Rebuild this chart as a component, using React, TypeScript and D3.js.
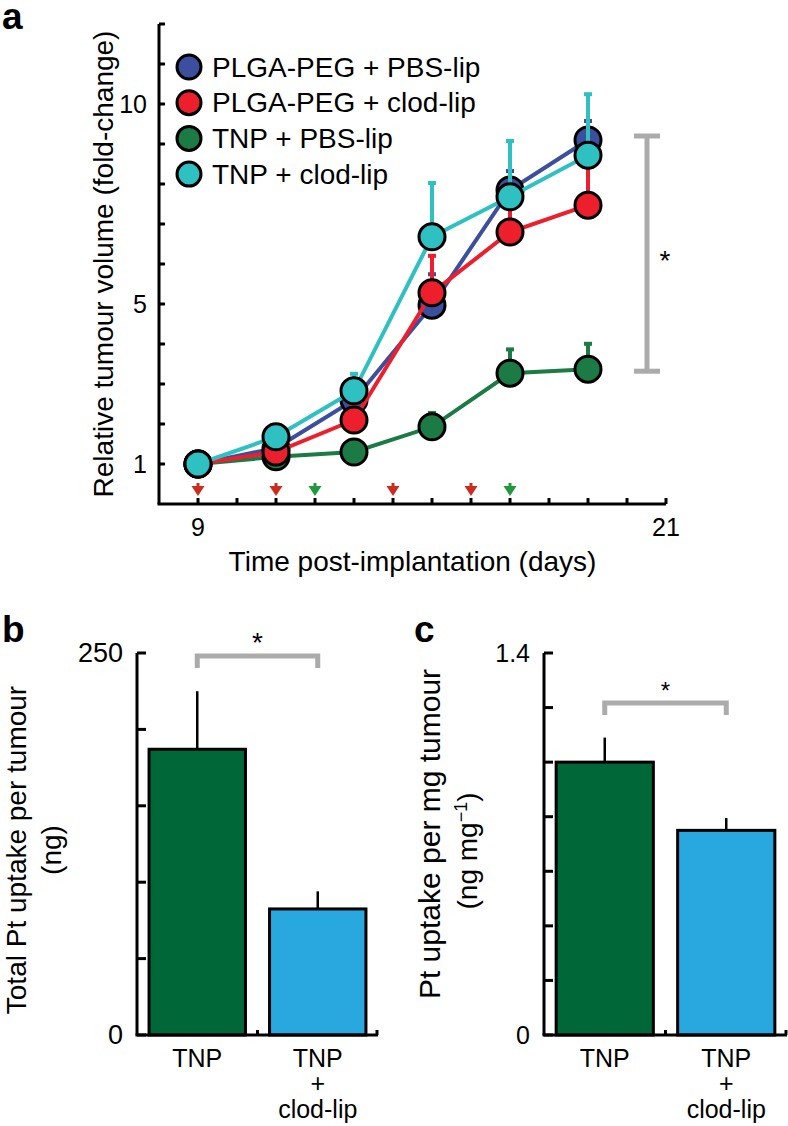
import React from 'react'
import * as d3 from 'd3'

const FONT = 'Liberation Sans, Arial, Helvetica, sans-serif'

// panel a: tumour growth
const days = [9, 11, 13, 15, 17, 19]
const seriesNames = ['PLGA-PEG + PBS-lip', 'PLGA-PEG + clod-lip', 'TNP + PBS-lip', 'TNP + clod-lip']
const seriesColors = ['#3c4f9f', '#ed1f2d', '#1c7b45', '#2fc1c1']
const plgaPbs = [1, 1.4, 2.6, 4.97, 7.85, 9.1]
const plgaPbsErr = [0, 0.1, 0.4, 0.8, 0.5, 0.5]
const plgaClod = [1, 1.3, 2.1, 5.28, 6.8, 7.47]
const plgaClodErr = [0, 0.1, 0.4, 0.95, 0.7, 1.1]
const tnpPbs = [1, 1.18, 1.3, 1.93, 3.27, 3.37]
const tnpPbsErr = [0, 0.05, 0.1, 0.37, 0.62, 0.66]
const tnpClod = [1, 1.68, 2.83, 6.68, 7.68, 8.72]
const tnpClodErr = [0, 0.1, 0.45, 1.37, 1.42, 1.55]
const drawOrder = [2, 0, 1, 3]
const yTickLabelsA = [1, 5, 10]
const xTickLabelsA = [9, 21]
const doseDays = [9, 11, 12, 14, 16, 17]
const doseColors = ['#cc2b1d', '#cc2b1d', '#1e9a3c', '#cc2b1d', '#cc2b1d', '#1e9a3c']
const sigA = [9.2, 3.32] // bracket ends, fold-change

// panels b and c
const barCats = ['TNP', 'TNP + clod-lip']
const barColors = ['#006838', '#29a8e0']
const totalPt = [187, 82.5]
const totalPtErr = [38, 11.5]
const ptPerMg = [1.0, 0.75]
const ptPerMgErr = [0.09, 0.045]

const series = [
  { vals: plgaPbs, err: plgaPbsErr },
  { vals: plgaClod, err: plgaClodErr },
  { vals: tnpPbs, err: tnpPbsErr },
  { vals: tnpClod, err: tnpClodErr },
]

function PanelA() {
  const x = d3.scaleLinear().domain([8, 21]).range([159, 666])
  const y = d3.scaleLinear().domain([0, 12]).range([504, 24])
  const line = d3.line<number>().x((_, i) => x(days[i])).y(v => y(v))
  const x0 = x(8), y0 = y(0)
  return (
    <g fontFamily={FONT}>
      <text x={2} y={29} fontSize={37} fontWeight="bold">a</text>
      {/* y axis */}
      <line x1={x0} x2={x0} y1={y0} y2={y(12)} stroke="#000" strokeWidth={3} />
      {d3.range(1, 13).map(v => (
        <line key={v} x1={x0} x2={x0 + 6} y1={y(v)} y2={y(v)} stroke="#000" strokeWidth={3} />
      ))}
      {yTickLabelsA.map(v => (
        <text key={v} x={x0 - 12} y={y(v)} fontSize={25} textAnchor="end" dominantBaseline="central">{v}</text>
      ))}
      <text transform={`translate(113,${(y(0) + y(12)) / 2}) rotate(-90)`} fontSize={28} textAnchor="middle">
        Relative tumour volume (fold-change)
      </text>
      {/* x axis */}
      <line x1={x0 - 1.5} x2={x(21)} y1={y0} y2={y0} stroke="#000" strokeWidth={3} />
      {d3.range(9, 22).map(d => (
        <line key={d} x1={x(d)} x2={x(d)} y1={y0} y2={y0 - 6} stroke="#000" strokeWidth={3} />
      ))}
      {xTickLabelsA.map(d => (
        <text key={d} x={x(d)} y={y0 + 32} fontSize={25} textAnchor="middle">{d}</text>
      ))}
      <text x={(x0 + x(21)) / 2} y={571} fontSize={28} textAnchor="middle">Time post-implantation (days)</text>
      {/* dosing arrows */}
      {doseDays.map((d, i) => {
        const cx = x(d), tip = y0 - 8
        return (
          <g key={i} fill={doseColors[i]} stroke="none">
            <rect x={cx - 1.5} y={tip - 13} width={3} height={4} />
            <path d={`M${cx - 6.5},${tip - 10}L${cx + 6.5},${tip - 10}L${cx},${tip}Z`} />
          </g>
        )
      })}
      {/* series */}
      {drawOrder.map(si => {
        const s = series[si]
        const c = seriesColors[si]
        return (
          <g key={si}>
            <path d={line(s.vals) || ''} fill="none" stroke={c} strokeWidth={4} />
            {s.vals.map((v, i) => s.err[i] > 0 ? (
              <g key={i}>
                <line x1={x(days[i])} x2={x(days[i])} y1={y(v)} y2={y(v + s.err[i])} stroke={c} strokeWidth={4} />
                <rect x={x(days[i]) - 4} y={y(v + s.err[i]) - 1} width={8} height={4} fill={c} />
              </g>
            ) : null)}
            {s.vals.map((v, i) => (
              <circle key={i} cx={x(days[i])} cy={y(v)} r={13} fill={c} stroke="#000" strokeWidth={3} />
            ))}
          </g>
        )
      })}
      {/* significance */}
      <g stroke="#ababab" strokeWidth={5}>
        <line x1={647} x2={647} y1={y(sigA[0])} y2={y(sigA[1])} />
        <line x1={634} x2={660} y1={y(sigA[0])} y2={y(sigA[0])} />
        <line x1={634} x2={660} y1={y(sigA[1])} y2={y(sigA[1])} />
      </g>
      <text x={665} y={(y(sigA[0]) + y(sigA[1])) / 2 + 16} fontSize={28} textAnchor="middle">*</text>
      {/* legend */}
      {seriesNames.map((n, i) => (
        <g key={n} transform={`translate(189,${67 + i * 35.7})`}>
          <circle r={12} fill={seriesColors[i]} stroke="#000" strokeWidth={3} />
          <text x={23} y={0} fontSize={28} dominantBaseline="central">{n}</text>
        </g>
      ))}
    </g>
  )
}

function BarPanel({ label, labelX, axisX, axisEnd, max, step, vals, errs, topLabel, tickSize, title1, title2, titleX, titleY, titleSize, bracket, starSize }) {
  const y = d3.scaleLinear().domain([0, max]).range([1035, 653])
  const x = d3.scaleBand().domain(barCats).range([axisX, axisEnd]).paddingInner(0.2).paddingOuter(0.1)
  const y0 = y(0)
  const ticks = d3.range(0, max + step / 2, step)
  const mid = (x(barCats[0])! + x.bandwidth() + x(barCats[1])!) / 2
  const c0 = x(barCats[0])! + x.bandwidth() / 2
  const c1 = x(barCats[1])! + x.bandwidth() / 2
  return (
    <g fontFamily={FONT}>
      <text x={labelX} y={642} fontSize={37} fontWeight="bold">{label}</text>
      {barCats.map((c, i) => (
        <g key={c}>
          <line x1={x(c)! + x.bandwidth() / 2} x2={x(c)! + x.bandwidth() / 2} y1={y(vals[i])} y2={y(vals[i] + errs[i])} stroke="#000" strokeWidth={2.5} />
          <rect x={x(c)} y={y(vals[i])} width={x.bandwidth()} height={y0 - y(vals[i])} fill={barColors[i]} stroke="#000" strokeWidth={3} />
        </g>
      ))}
      <line x1={axisX} x2={axisX} y1={y0} y2={y(max)} stroke="#000" strokeWidth={3} />
      {ticks.map(t => (
        <line key={t} x1={axisX} x2={axisX + 9} y1={y(t)} y2={y(t)} stroke="#000" strokeWidth={3} />
      ))}
      <line x1={axisX - 1.5} x2={axisEnd} y1={y0} y2={y0} stroke="#000" strokeWidth={3} />
      {[mid, axisEnd - 1].map((t, i) => (
        <line key={i} x1={t} x2={t} y1={y0} y2={y0 - 5} stroke="#000" strokeWidth={3} />
      ))}
      <text x={axisX - 14} y={y0} fontSize={tickSize} textAnchor="end" dominantBaseline="central">0</text>
      <text x={axisX - 14} y={y(max)} fontSize={tickSize} textAnchor="end" dominantBaseline="central">{topLabel}</text>
      <text x={c0} y={1067} fontSize={25} textAnchor="middle">TNP</text>
      <text x={c1} y={1067} fontSize={25} textAnchor="middle">TNP</text>
      <text x={c1} y={1092} fontSize={25} textAnchor="middle">+</text>
      <text x={c1} y={1118} fontSize={25} textAnchor="middle">clod-lip</text>
      <text transform={`translate(${titleX[0]},${titleY[0]}) rotate(-90)`} fontSize={titleSize} textAnchor="middle">{title1}</text>
      <text transform={`translate(${titleX[1]},${titleY[1]}) rotate(-90)`} fontSize={28} textAnchor="middle">{title2}</text>
      <path d={`M${c0},${bracket + 12}V${bracket}H${c1}V${bracket + 12}`} fill="none" stroke="#ababab" strokeWidth={5} />
      <text x={(c0 + c1) / 2} y={bracket - 4} fontSize={starSize} textAnchor="middle">*</text>
    </g>
  )
}

export default function App() {
  return (
    <svg width={788} height={1126} style={{ position: 'absolute', left: 0, top: 0, background: '#fff' }}>
      <rect width={788} height={1126} fill="#fff" />
      <PanelA />
      <BarPanel label="b" labelX={2} axisX={137} axisEnd={378} max={250} step={50}
        vals={totalPt} errs={totalPtErr} topLabel="250" tickSize={27}
        title1="Total Pt uptake per tumour" title2="(ng)" titleX={[26, 61]} titleY={[850, 850]} titleSize={28}
        bracket={656} starSize={28} />
      <BarPanel label="c" labelX={414} axisX={544} axisEnd={787} max={1.4} step={0.2}
        vals={ptPerMg} errs={ptPerMgErr} topLabel="1.4" tickSize={25}
        title1="Pt uptake per mg tumour"
        title2={<>(ng mg<tspan dy={-10} fontSize={18}>−1</tspan><tspan dy={10}>)</tspan></>}
        titleX={[440, 477]} titleY={[834, 851]} titleSize={30}
        bracket={703} starSize={24} />
    </svg>
  )
}
